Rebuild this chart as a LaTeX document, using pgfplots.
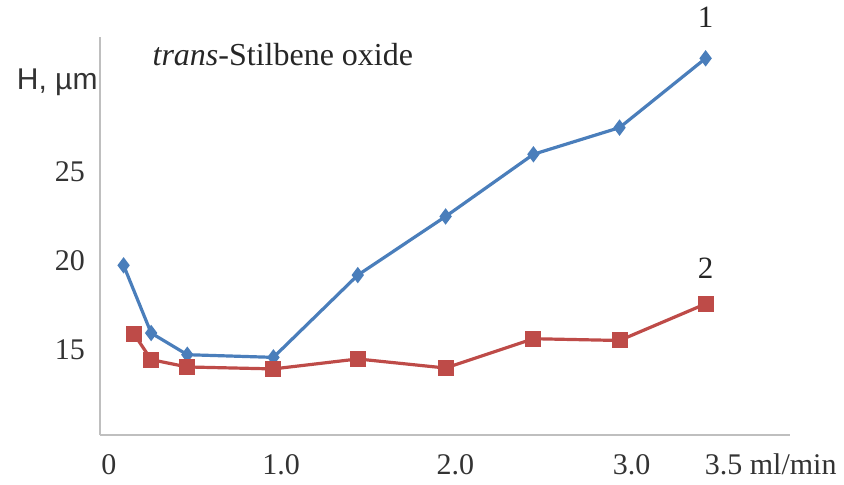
\documentclass[border=0pt]{standalone}
\usepackage{pgfplots}
\pgfplotsset{compat=1.18}
\usepackage{fontspec}
\setmainfont{Liberation Serif}
\newfontfamily\arialfont{Liberation Sans}
\definecolor{s1}{HTML}{4A7EBB}
\definecolor{s2}{HTML}{BE4B48}
\definecolor{axgray}{HTML}{BFBFBF}
\begin{document}
\begin{tikzpicture}
\useasboundingbox (-50pt,-24.5pt) rectangle (372pt,217.5pt);
\begin{axis}[
  scale only axis,
  width=345pt, height=199pt,
  xmin=-0.017, xmax=3.99,
  ymin=10.2, ymax=32.6,
  axis x line*=bottom, axis y line*=left,
  axis line style={axgray, line width=1pt},
  every outer x axis line/.append style={-},
  every outer y axis line/.append style={-},
  xtick={0,1,2,3,3.5},
  xticklabels={0,1.0,\hspace{2pt}2.0,\hspace{6pt}3.0,\hspace{12pt}3.5\rlap{ ml/min}},
  ytick={15,20,25},
  major tick length=0pt,
  /pgf/number format/assume math mode=true,
  tick label style={font=\fontsize{15}{17}\selectfont, text=black!80},
  xticklabel style={yshift=-6pt, xshift=3pt},
  yticklabel style={xshift=-4pt},
  clip=false,
]
\addplot[s1, line width=1.6pt, mark=diamond*, mark size=2.8pt, mark options={solid}] coordinates {
  (0.12,19.75) (0.28,15.94) (0.49,14.72) (0.99,14.57) (1.48,19.2)
  (1.99,22.5) (2.50,26.0) (3.0,27.5) (3.5,31.4)
};
\addplot[s2, line width=1.6pt, mark=square*, mark size=3.2pt, mark options={solid}] coordinates {
  (0.18,15.9) (0.28,14.44) (0.49,14.03) (0.99,13.92) (1.48,14.48)
  (1.99,13.97) (2.50,15.62) (3.0,15.52) (3.5,17.58)
};
\node[font=\fontsize{15.5}{17}\selectfont, text=black!85] at (axis cs:3.5,33.7) {1};
\node[font=\fontsize{15.5}{17}\selectfont, text=black!85] at (axis cs:3.5,19.6) {2};
\node[anchor=east, inner sep=0pt, font=\arialfont\fontsize{15}{17}\selectfont, text=black!80] at (rel axis cs:-0.003,0.885) {H, µm};
\node[font=\fontsize{16}{17}\selectfont, text=black!85] at (rel axis cs:0.265,0.955) {\textit{trans}-Stilbene oxide};
\end{axis}
\end{tikzpicture}
\end{document}
